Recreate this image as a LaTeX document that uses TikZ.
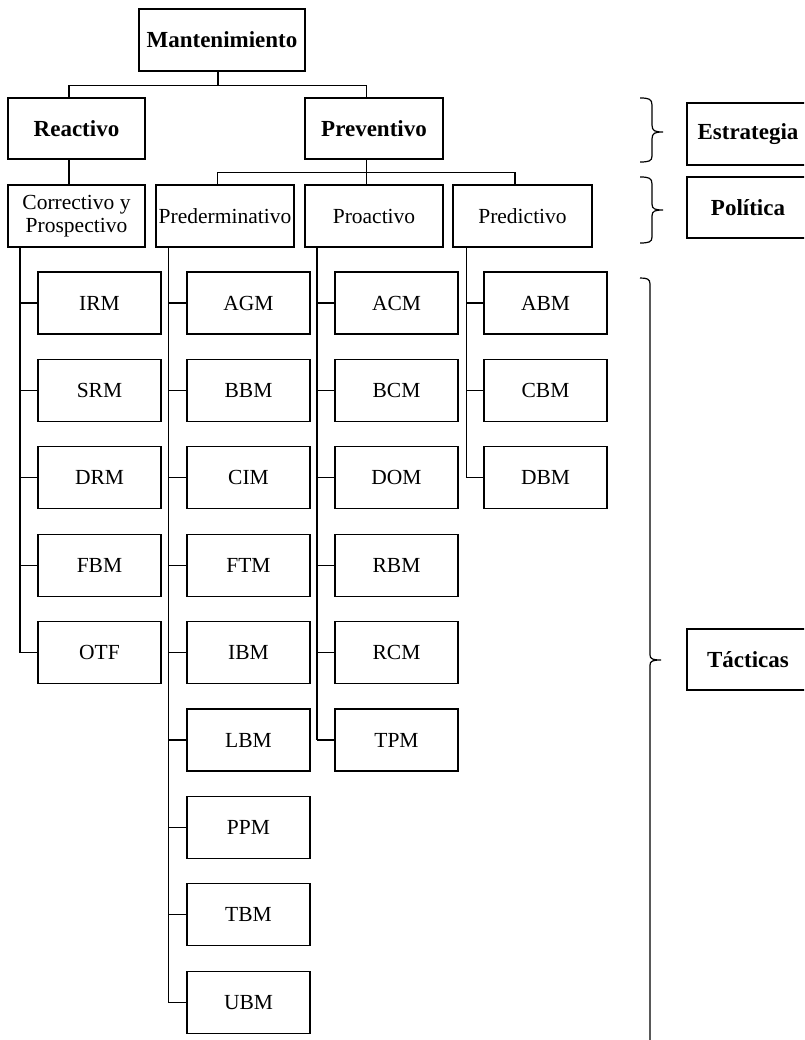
\documentclass[tikz,border=0pt]{standalone}
\usepackage{fontspec}
\setmainfont{Liberation Serif}
\begin{document}
\begin{tikzpicture}[x=1pt,y=-1pt,
  box/.style={draw,line width=1.2pt,minimum height=62pt,inner sep=0pt,font=\fontsize{21.5}{23}\selectfont,align=center},
  bbox/.style={box,font=\fontsize{23}{25}\selectfont\bfseries},
  leaf/.style={box,minimum width=123pt},
  conn/.style={line width=1.2pt},
  spine/.style={line width=1.6pt},
  stub/.style={line width=1.1pt},
  brace/.style={line width=1.2pt}]
\clip (0,0) rectangle (804,1040);
\fill[white] (0,0) rectangle (804,1040);

% top levels
\node[bbox,minimum width=166pt] (mant) at (222,40) {Mantenimiento};
\node[bbox,minimum width=137pt,minimum height=61pt] (reac) at (76.5,128.5) {Reactivo};
\node[bbox,minimum width=138pt,minimum height=61pt] (prev) at (374,128.5) {Preventivo};

\node[box,minimum width=137pt] (corr) at (76.5,216) {Correctivo y\\Prospectivo};
\node[box,minimum width=138pt] (pred) at (225,216) {Prederminativo};
\node[box,minimum width=138pt] (proa) at (374,216) {Proactivo};
\node[box,minimum width=139pt] (pdic) at (522.5,216) {Predictivo};

% connectors top
\draw[conn] ([xshift=-4pt]mant.south) -- ++(0,14) coordinate (j1);
\draw[conn] (j1) -| ([xshift=-7.5pt]reac.north);
\draw[conn] (j1) -| ([xshift=-7.5pt]prev.north);
\draw[conn] ([xshift=-7.5pt]reac.south) -- ([xshift=-7.5pt]corr.north);
\draw[conn] ([xshift=-7.5pt]prev.south) -- ++(0,13) coordinate (j2);
\draw[conn] (j2) -| ([xshift=-7.5pt]pred.north);
\draw[conn] (j2) -| ([xshift=-7.5pt]pdic.north);
\draw[conn] (j2) -- ([xshift=-7.5pt]proa.north);

% leaves
\def\rowy#1{303+87.4*#1}
\foreach \name/\lab/\r in {a1/IRM/0,a2/SRM/1,a3/DRM/2,a4/FBM/3,a5/OTF/4}
  \node[leaf] (\name) at (99.5,{\rowy{\r}}) {\lab};
\foreach \name/\lab/\r in {b1/AGM/0,b2/BBM/1,b3/CIM/2,b4/FTM/3,b5/IBM/4,b6/LBM/5,b7/PPM/6,b8/TBM/7,b9/UBM/8}
  \node[leaf] (\name) at (248.5,{\rowy{\r}}) {\lab};
\foreach \name/\lab/\r in {c1/ACM/0,c2/BCM/1,c3/DOM/2,c4/RBM/3,c5/RCM/4,c6/TPM/5}
  \node[leaf] (\name) at (396.5,{\rowy{\r}}) {\lab};
\foreach \name/\lab/\r in {d1/ABM/0,d2/CBM/1,d3/DBM/2}
  \node[leaf] (\name) at (545.5,{\rowy{\r}}) {\lab};

% spines
\coordinate (sa) at ([xshift=12.5pt]corr.south west);
\coordinate (sb) at ([xshift=13pt]pred.south west);
\coordinate (sc) at ([xshift=12.5pt]proa.south west);
\coordinate (sd) at ([xshift=14pt]pdic.south west);
\draw[spine] (sa) -- (sa |- a5.west);
\draw[spine] (sb) -- (sb |- b9.west);
\draw[spine] (sc) -- (sc |- c6.west);
\draw[spine] (sd) -- (sd |- d3.west);
\foreach \n in {a1,a2,a3,a4,a5} \draw[stub] (\n.west) -- (\n.west -| sa);
\foreach \n in {b1,b2,b3,b4,b5,b6,b7,b8,b9} \draw[stub] (\n.west) -- (\n.west -| sb);
\foreach \n in {c1,c2,c3,c4,c5,c6} \draw[stub] (\n.west) -- (\n.west -| sc);
\foreach \n in {d1,d2,d3} \draw[stub] (\n.west) -- (\n.west -| sd);

% levels on the right
\node[bbox,minimum width=122pt] (estr) at (748,134) {Estrategia};
\node[bbox,minimum width=122pt,minimum height=61pt] (poli) at (748,207.5) {Política};
\node[bbox,minimum width=122pt,minimum height=61pt] (tact) at (748,659.5) {Tácticas};

% braces
\draw[brace] (640,98) .. controls (649,98) and (652,99) .. (652,105) -- (652,125)
  .. controls (652,131) and (655,132) .. (663,132)
  .. controls (655,132) and (652,133) .. (652,139) -- (652,156)
  .. controls (652,161) and (649,162) .. (640,162);
\draw[brace] (640,177) .. controls (649,177) and (652,178) .. (652,184) -- (652,204)
  .. controls (652,209) and (655,210) .. (663,210)
  .. controls (655,210) and (652,211) .. (652,216) -- (652,237)
  .. controls (652,242) and (649,243) .. (640,243);
\draw[brace] (640,278) .. controls (647,278) and (650,279) .. (650,284) -- (650,655)
  .. controls (650,659) and (653,660) .. (661,660)
  .. controls (653,660) and (650,661) .. (650,665) -- (650,1045);
\end{tikzpicture}
\end{document}
